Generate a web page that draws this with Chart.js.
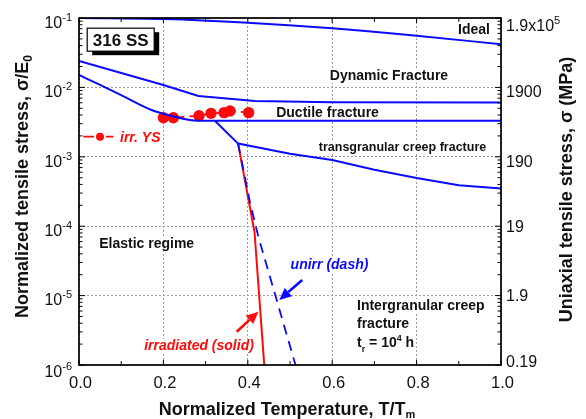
<!DOCTYPE html>
<html><head><meta charset="utf-8">
<script src="https://cdn.jsdelivr.net/npm/chart.js@4/dist/chart.umd.min.js"></script>
<style>html,body{margin:0;padding:0;background:#fff}</style>
</head><body>
<canvas id="c" width="586" height="419"></canvas>
<script>
// ---------- data ----------
const idealT = [0, 0.2, 0.4, 0.6, 0.8, 1.0];
const idealS = [0.1, 0.0967, 0.0856, 0.071, 0.0556, 0.0418];

const dynamicT = [0, 0.1, 0.2, 0.283, 0.417, 0.6, 1.0];
const dynamicS = [0.024, 0.0161, 0.01084, 0.00752, 0.00637, 0.0061, 0.00605];

const ductileT = [0, 0.05, 0.1, 0.172, 0.22, 0.267, 0.3, 1.0];
const ductileS = [0.0151, 0.01084, 0.00775, 0.00472, 0.00387, 0.00336, 0.0033, 0.0033];

const transT = [0.322, 0.377, 0.5, 0.6, 0.7, 0.8, 0.9, 1.0];
const transS = [0.0033, 0.00155, 0.00111, 0.0009, 0.00065, 0.000495, 0.00039, 0.00035];

const irrSolidT = [0.377, 0.4159, 0.439];
const irrSolidS = [0.00155, 8.26e-5, 1e-6];

const unirrDashT = [0.377, 0.405, 0.425, 0.513];
const unirrDashS = [0.00155, 2.25e-4, 7.06e-5, 1e-6];

const irrYsT = [0.2, 0.2235, 0.2844, 0.3128, 0.3436, 0.3578, 0.402];
const irrYsS = [0.00366, 0.00366, 0.00391, 0.00423, 0.00433, 0.00457, 0.00433];

const xTickValues = [0, 0.2, 0.4, 0.6, 0.8, 1.0];
const xTickLabels = ['0.0', '0.2', '0.4', '0.6', '0.8', '1.0'];
const yDecades = [1e-6, 1e-5, 1e-4, 1e-3, 1e-2, 1e-1];
const yTickExponents = ['-6', '-5', '-4', '-3', '-2', '-1'];
const mpaTickMain = ['0.19', '1.9', '19', '190', '1900', '1.9x10'];
const mpaTickSup = ['', '', '', '', '', '5'];

// ---------- styling ----------
const BLUE = '#0a0aff', RED = '#ff0a0a', INK = '#111';
const F = '"Liberation Sans", Arial, Helvetica, sans-serif';
const fb = s => `bold ${s}px ${F}`;
const fbi = s => `italic bold ${s}px ${F}`;
const fr = s => `${s}px ${F}`;

const pts = (xs, ys) => xs.map((x, i) => ({x, y: ys[i]}));
const lineDs = (xs, ys, color, extra) => Object.assign({
  data: pts(xs, ys), showLine: true, borderColor: color, borderWidth: 2,
  pointRadius: 0, fill: false, tension: 0
}, extra || {});

function richWidth(ctx, parts) {
  let w = 0;
  for (const p of parts) { ctx.font = p.f; w += ctx.measureText(p.t).width; }
  return w;
}
function drawRich(ctx, parts, x, cy, align, color, bg, mainSize) {
  const w = richWidth(ctx, parts);
  let sx = align === 'center' ? x - w / 2 : align === 'right' ? x - w : x;
  const base = cy + 0.36 * mainSize;
  if (bg) {
    ctx.fillStyle = '#fff';
    ctx.fillRect(sx - 2, base - 0.78 * mainSize, w + 4, mainSize * 1.0);
  }
  ctx.fillStyle = color;
  ctx.textBaseline = 'alphabetic';
  ctx.textAlign = 'left';
  for (const p of parts) {
    ctx.font = p.f;
    ctx.fillText(p.t, sx, base + (p.dy || 0));
    sx += ctx.measureText(p.t).width;
  }
}

// text annotations, anchored in data coordinates
const notes = [
  {parts: [{t: 'Ideal', f: fb(14)}], x: 0.936, y: 0.0695, size: 14, align: 'center', color: INK},
  {parts: [{t: 'Dynamic Fracture', f: fb(14)}], x: 0.7346, y: 0.0151, size: 14, align: 'center', color: INK},
  {parts: [{t: 'Ductile fracture', f: fb(14)}], x: 0.589, y: 0.00443, size: 14, align: 'center', color: INK},
  {parts: [{t: 'transgranular creep fracture', f: fb(12.5)}], x: 0.7666, y: 0.00143, size: 12.5, align: 'center', color: INK},
  {parts: [{t: 'Elastic regime', f: fb(14)}], x: 0.1604, y: 5.68e-5, size: 14, align: 'center', color: INK},
  {parts: [{t: 'unirr (dash)', f: fbi(14)}], x: 0.5936, y: 2.85e-5, size: 14, align: 'center', color: BLUE},
  {parts: [{t: 'irradiated (solid)', f: fbi(14)}], x: 0.2844, y: 1.94e-6, size: 14, align: 'center', color: RED},
  {parts: [{t: 'Intergranular creep', f: fb(14)}], x: 0.6588, y: 7.33e-6, size: 14, align: 'left', color: INK},
  {parts: [{t: 'fracture', f: fb(14)}], x: 0.6588, y: 3.99e-6, size: 14, align: 'left', color: INK},
  {parts: [{t: 't', f: fb(14)}, {t: 'r', f: fb(9), dy: 5}, {t: ' = 10', f: fb(14)}, {t: '4', f: fb(9), dy: -6}, {t: ' h', f: fb(14)}],
   x: 0.6588, y: 2.14e-6, size: 14, align: 'left', color: INK},
  {parts: [{t: 'irr. YS', f: fbi(14)}], x: 0.0972, y: 0.00195, size: 14, align: 'left', color: RED}
];

function arrow(ctx, x1, y1, x2, y2, color) {
  const a = Math.atan2(y2 - y1, x2 - x1), L = 12, W = 5.5;
  const bx = x2 - L * Math.cos(a), by = y2 - L * Math.sin(a);
  ctx.strokeStyle = color; ctx.lineWidth = 2.6; ctx.setLineDash([]);
  ctx.beginPath(); ctx.moveTo(x1, y1); ctx.lineTo(bx, by); ctx.stroke();
  ctx.fillStyle = color; ctx.beginPath();
  ctx.moveTo(x2, y2);
  ctx.lineTo(bx + W * Math.sin(a), by - W * Math.cos(a));
  ctx.lineTo(bx - W * Math.sin(a), by + W * Math.cos(a));
  ctx.closePath(); ctx.fill();
}

const decor = {
  id: 'decor',
  beforeDatasetsDraw(chart) {
    // white backgrounds behind annotation text (hide grid lines)
    const {ctx, scales: {x, y}} = chart;
    ctx.save();
    for (const n of notes) {
      const w = richWidth(ctx, n.parts);
      const px = x.getPixelForValue(n.x), py = y.getPixelForValue(n.y);
      let sx = n.align === 'center' ? px - w / 2 : px;
      const base = py + 0.36 * n.size;
      ctx.fillStyle = '#fff';
      ctx.fillRect(sx - 2, base - 0.8 * n.size, w + 4, n.size * 1.0);
    }
    ctx.restore();
  },
  afterDatasetsDraw(chart) {
    const {ctx, scales: {x, y}} = chart;
    ctx.save();
    for (const n of notes) {
      drawRich(ctx, n.parts, x.getPixelForValue(n.x), y.getPixelForValue(n.y), n.align, n.color, false, n.size);
    }
    // arrows
    arrow(ctx, x.getPixelForValue(0.529), y.getPixelForValue(1.68e-5),
               x.getPixelForValue(0.4746), y.getPixelForValue(8.65e-6), BLUE);
    arrow(ctx, x.getPixelForValue(0.3737), y.getPixelForValue(3.02e-6),
               x.getPixelForValue(0.425), y.getPixelForValue(5.86e-6), RED);
    // irr. YS key
    const ky = y.getPixelForValue(0.00195);
    const kx0 = x.getPixelForValue(0.0102), kx1 = x.getPixelForValue(0.0813), kc = x.getPixelForValue(0.0498);
    ctx.strokeStyle = RED; ctx.lineWidth = 1.8;
    ctx.beginPath(); ctx.moveTo(kx0, ky); ctx.lineTo(kc - 6, ky); ctx.moveTo(kc + 6, ky); ctx.lineTo(kx1, ky); ctx.stroke();
    ctx.fillStyle = RED; ctx.beginPath(); ctx.arc(kc, ky, 4, 0, Math.PI * 2); ctx.fill();
    // 316 SS box
    const bxc = x.getPixelForValue(0.0988), byc = y.getPixelForValue(0.0487);
    const bw = 67, bh = 23;
    ctx.fillStyle = '#000';
    ctx.fillRect(bxc - bw / 2 + 5, byc - bh / 2 + 4, bw, bh);
    ctx.fillStyle = '#fff';
    ctx.fillRect(bxc - bw / 2, byc - bh / 2, bw, bh);
    ctx.strokeStyle = '#000'; ctx.lineWidth = 1.2;
    ctx.strokeRect(bxc - bw / 2, byc - bh / 2, bw, bh);
    drawRich(ctx, [{t: '316 SS', f: fb(17)}], bxc, byc, 'center', INK, false, 17);
    ctx.restore();
  },
  afterDraw(chart) {
    const {ctx, chartArea: a, scales: {x, y}} = chart;
    ctx.save();
    ctx.strokeStyle = '#000'; ctx.setLineDash([]);
    // ticks
    ctx.lineWidth = 1;
    ctx.beginPath();
    for (let k = 0; k <= 10; k++) {
      const px = x.getPixelForValue(k / 10), L = k % 2 === 0 ? 5 : 4;
      ctx.moveTo(px, a.bottom); ctx.lineTo(px, a.bottom - L);
      ctx.moveTo(px, a.top); ctx.lineTo(px, a.top + L);
    }
    for (let e = -6; e <= -1; e++) {
      for (let m = 1; m <= 9; m++) {
        const v = m * Math.pow(10, e);
        if (v > 0.1000001) continue;
        const py = y.getPixelForValue(v), L = m === 1 ? 6 : 3.5;
        ctx.moveTo(a.left, py); ctx.lineTo(a.left + L, py);
        ctx.moveTo(a.right, py); ctx.lineTo(a.right - L, py);
      }
    }
    ctx.stroke();
    // frame
    ctx.lineWidth = 1.7;
    ctx.strokeRect(a.left, a.top, a.right - a.left, a.bottom - a.top);

    // x tick labels
    xTickValues.forEach((v, i) => {
      drawRich(ctx, [{t: xTickLabels[i], f: fr(16.5)}], x.getPixelForValue(v) + 1.5, a.bottom + 17, 'center', INK, false, 16.5);
    });
    // left y tick labels 10^n
    yDecades.forEach((v, i) => {
      const py = y.getPixelForValue(v) + (i === 0 ? 6.5 : 4);
      drawRich(ctx, [{t: '10', f: fr(16)}, {t: yTickExponents[i], f: fr(11), dy: -7}], a.left - 7, py, 'right', INK, false, 16);
    });
    // right y tick labels (MPa)
    const nudge = [-3.5, 0, 0, 4, 3.5, 7];
    yDecades.forEach((v, i) => {
      const py = y.getPixelForValue(v) + nudge[i];
      const parts = [{t: mpaTickMain[i], f: fr(16)}];
      if (mpaTickSup[i]) parts.push({t: mpaTickSup[i], f: fr(11), dy: -7});
      drawRich(ctx, parts, a.right + 5, py, 'left', INK, false, 16);
    });
    // axis titles
    drawRich(ctx, [{t: 'Normalized Temperature, T/T', f: fb(18)}, {t: 'm', f: fb(11), dy: 3}],
             (a.left + a.right) / 2 - 3, 409, 'center', INK, false, 18);
    ctx.save();
    ctx.translate(22, (a.top + a.bottom) / 2 - 5);
    ctx.rotate(-Math.PI / 2);
    drawRich(ctx, [{t: 'Normalized tensile stress, \u03c3/E', f: fb(18)}, {t: '0', f: fb(12), dy: 4}], 0, 0, 'center', INK, false, 18);
    ctx.restore();
    ctx.save();
    ctx.translate(566, (a.top + a.bottom) / 2 - 2);
    ctx.rotate(-Math.PI / 2);
    drawRich(ctx, [{t: 'Uniaxial tensile stress, \u03c3 (MPa)', f: fb(18)}], 0, 0, 'center', INK, false, 18);
    ctx.restore();
    ctx.restore();
  }
};

const gridCommon = {color: '#9a9a9a', lineWidth: 1, drawTicks: false, tickLength: 0};

new Chart(document.getElementById('c'), {
  type: 'scatter',
  data: {
    datasets: [
      lineDs(idealT, idealS, BLUE, {cubicInterpolationMode: 'monotone'}),
      lineDs(dynamicT, dynamicS, BLUE),
      lineDs(ductileT, ductileS, BLUE, {cubicInterpolationMode: 'monotone'}),
      lineDs(transT, transS, BLUE),
      lineDs(unirrDashT, unirrDashS, BLUE, {borderDash: [10, 7], borderWidth: 1.8}),
      lineDs(irrSolidT, irrSolidS, RED),
      {data: pts(irrYsT, irrYsS), showLine: true, borderColor: RED, borderWidth: 1.8,
       borderDash: [8, 5], pointRadius: 5.7, pointBackgroundColor: RED, pointBorderWidth: 0}
    ]
  },
  options: {
    responsive: false, animation: false, devicePixelRatio: 1,
    layout: {padding: {left: 0, right: 85, top: 18, bottom: 0}},
    plugins: {legend: {display: false}, tooltip: {enabled: false}, title: {display: false}},
    scales: {
      x: {
        type: 'linear', min: 0, max: 1,
        ticks: {display: false, stepSize: 0.2},
        grid: gridCommon, border: {display: false, dash: [2, 2]},
        afterFit(s) { s.height = 54; }
      },
      y: {
        type: 'logarithmic', min: 1e-6, max: 1e-1,
        ticks: {display: false},
        afterBuildTicks(s) { s.ticks = yDecades.map(v => ({value: v})); },
        grid: gridCommon, border: {display: false, dash: [2, 2]},
        afterFit(s) { s.width = 79; }
      }
    }
  },
  plugins: [decor]
});
</script>
</body></html>
